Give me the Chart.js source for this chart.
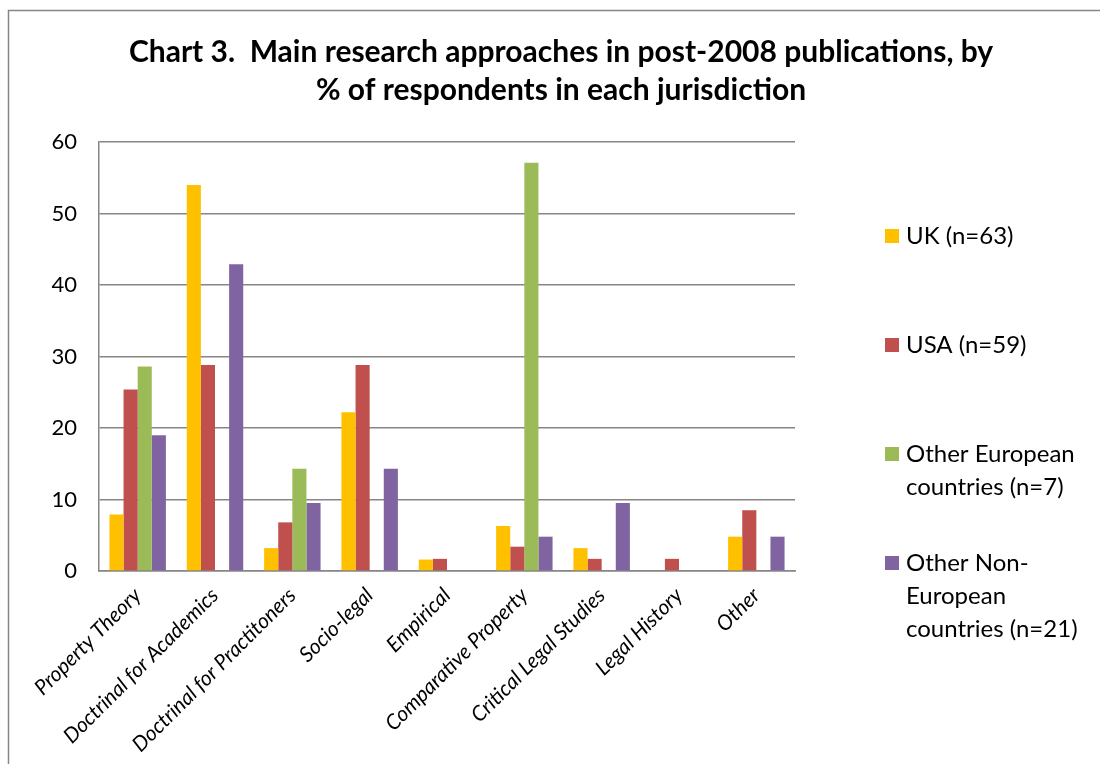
<!DOCTYPE html>
<html>
<head>
<meta charset="utf-8">
<script src="https://cdn.jsdelivr.net/npm/chart.js@4.4.1/dist/chart.umd.min.js"></script>
<style>
  html, body { margin: 0; padding: 0; background: #fff; }
  #wrap { position: relative; width: 1100px; height: 764px; }
</style>
</head>
<body>
<div id="wrap"><canvas id="chart" width="1100" height="764"></canvas></div>
<script>
const categories = [
    'Property Theory',
    'Doctrinal for Academics',
    'Doctrinal for Practitoners',
    'Socio-legal',
    'Empirical',
    'Comparative Property',
    'Critical Legal Studies',
    'Legal History',
    'Other'
]

const ukValues = [7.9, 54.0, 3.2, 22.2, 1.6, 6.3, 3.2, 0, 4.8]
const usaValues = [25.4, 28.8, 6.8, 28.8, 1.7, 3.4, 1.7, 1.7, 8.5]
const otherEuropeValues = [28.6, 0, 14.3, 0, 0, 57.1, 0, 0, 0]
const otherNonEuropeValues = [19.0, 42.9, 9.5, 14.3, 0, 4.8, 9.5, 0, 4.8]

const yTicks = [0, 10, 20, 30, 40, 50, 60]

const titleLines = [
    'Chart 3.  Main research approaches in post-2008 publications, by',
    '% of respondents in each jurisdiction'
]

// legend text, split the way the original wraps it
const seriesNames = [
    ['UK (n=63)'],
    ['USA (n=59)'],
    ['Other European', 'countries (n=7)'],
    ['Other Non-', 'European', 'countries (n=21)']
]
const seriesColors = ['#FFC000', '#C0504D', '#9BBB59', '#8064A2']

const FONT = "Lato, 'Liberation Sans', sans-serif"

// frame round the whole chart + the title (title centred on the whole frame, not the plot)
const framePlugin = {
    id: 'frame',
    beforeDraw(chart) {
        const ctx = chart.ctx
        ctx.save()
        ctx.strokeStyle = '#868686'
        ctx.lineWidth = 1.5
        ctx.strokeRect(8.5, 10.5, 1200, 900)
        ctx.fillStyle = '#000'
        ctx.font = 'bold 30px ' + FONT
        ctx.textAlign = 'center'
        ctx.textBaseline = 'middle'
        titleLines.forEach((t, i) => ctx.fillText(t, 561, 52 + i * 38))
        ctx.restore()
    }
}

// legend on the right, spaced out like the excel one
const sideLegend = {
    id: 'sideLegend',
    afterDraw(chart) {
        const ctx = chart.ctx
        ctx.save()
        ctx.font = '24px ' + FONT
        ctx.textBaseline = 'middle'
        ctx.textAlign = 'left'
        chart.data.datasets.forEach((ds, i) => {
            const top = 236 + i * 109
            ctx.fillStyle = ds.backgroundColor
            ctx.fillRect(885, top - 7, 14, 14)
            ctx.fillStyle = '#000'
            seriesNames[i].forEach((line, j) => {
                ctx.fillText(line, 906, top + j * 33)
            })
        })
        ctx.restore()
    }
}

const datasets = [ukValues, usaValues, otherEuropeValues, otherNonEuropeValues].map((vals, i) => ({
    label: seriesNames[i].join(' '),
    data: vals,
    backgroundColor: seriesColors[i],
    borderWidth: 0,
    categoryPercentage: 0.73,
    barPercentage: 1.0
}))

const chart = new Chart(document.getElementById('chart'), {
    type: 'bar',
    data: { labels: categories, datasets: datasets },
    options: {
        responsive: false,
        animation: false,
        layout: { padding: { left: 30, right: 305, top: 142, bottom: 0 } },
        plugins: {
            legend: { display: false },
            tooltip: { enabled: false },
            title: { display: false }
        },
        scales: {
            x: {
                grid: { display: false, drawTicks: false },
                border: { color: '#868686', width: 1.5 },
                ticks: {
                    color: '#000',
                    font: { family: FONT, size: 21, style: 'italic' },
                    minRotation: 45,
                    maxRotation: 45,
                    padding: 12,
                    autoSkip: false
                },
                afterFit(scale) { scale.height = 193 }
            },
            y: {
                min: 0,
                max: 60,
                afterBuildTicks(scale) { scale.ticks = yTicks.map(v => ({ value: v })) },
                grid: { color: '#868686', lineWidth: 1.5, drawTicks: false },
                border: { color: '#868686', width: 1.5 },
                ticks: {
                    color: '#000',
                    font: { family: FONT, size: 22 },
                    padding: 22
                },
                afterFit(scale) { scale.width = 69 }
            }
        }
    },
    plugins: [framePlugin, sideLegend]
})
</script>
</body>
</html>
